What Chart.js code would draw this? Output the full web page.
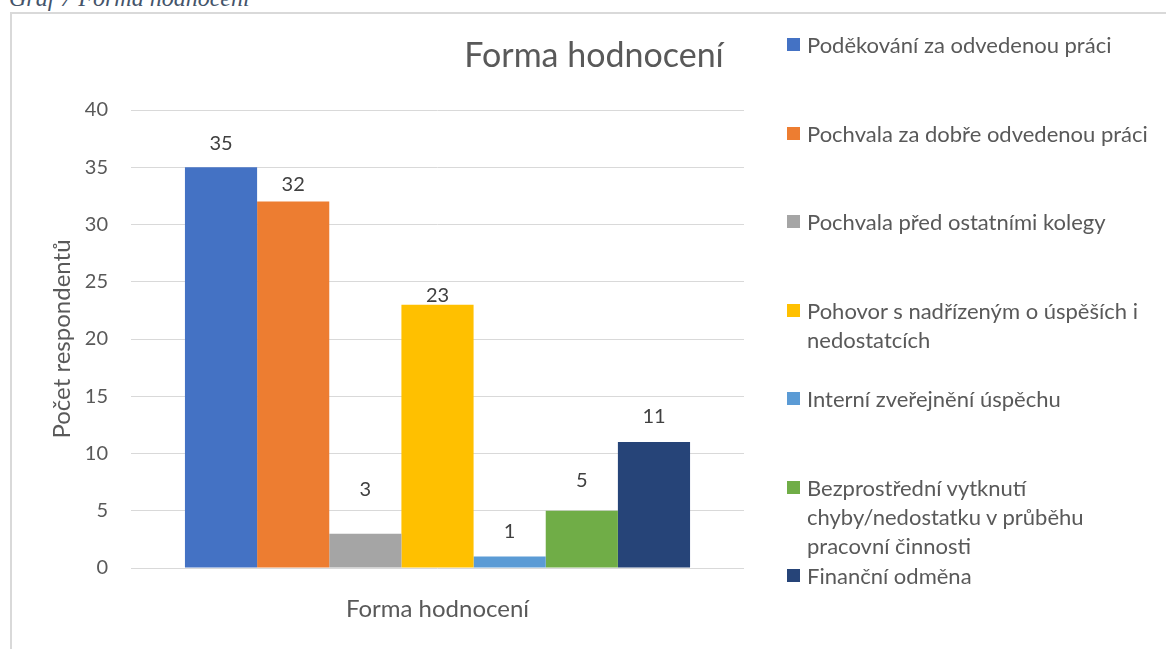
<!DOCTYPE html>
<html>
<head>
<meta charset="utf-8">
<script src="https://cdn.jsdelivr.net/npm/chart.js@4/dist/chart.umd.min.js"></script>
<style>
  body { margin: 0; background: #fff; width: 1166px; height: 649px; overflow: hidden; position: relative; font-family: Lato, sans-serif; }
  #caption { position: absolute; left: 9px; top: -14px; font: italic 24px/24px "Liberation Serif", serif; color: #44546a; white-space: nowrap; }
  #frame { position: absolute; left: 10px; top: 12px; width: 1200px; height: 700px; border-left: 2px solid #d9d9d9; border-top: 2px solid #d9d9d9; }
  #chart { position: absolute; left: 0; top: 0; }
  #legend { position: absolute; left: 0; top: 0; }
  .item { position: absolute; left: 787px; width: 375px; font-size: 22px; line-height: 29px; color: #595959; }
  .item span.box { position: absolute; left: 0; top: 8px; width: 13px; height: 13px; }
  .item span.txt { display: block; margin-left: 20px; width: 355px; }
</style>
</head>
<body>
<div id="caption">Graf 7 Forma hodnocení</div>
<div id="frame"></div>
<canvas id="chart" width="1166" height="649"></canvas>
<div id="legend"></div>
<script>
// Data
const categories = ['Forma hodnocení'];
const seriesNames = [
    'Poděkování za odvedenou práci',
    'Pochvala za dobře odvedenou práci',
    'Pochvala před ostatními kolegy',
    'Pohovor s nadřízeným o úspěších i nedostatcích',
    'Interní zveřejnění úspěchu',
    'Bezprostřední vytknutí chyby/nedostatku v průběhu pracovní činnosti',
    'Finanční odměna'
];
const seriesValues = [35, 32, 3, 23, 1, 5, 11];
const yTicks = [0, 5, 10, 15, 20, 25, 30, 35, 40];

// Styles
const colors = ['#4472c4', '#ed7d31', '#a5a5a5', '#ffc000', '#5b9bd5', '#70ad47', '#264478'];
const labelLift = [24, 17, 44, 9, 25, 30, 26];
const chartTitle = 'Forma hodnocení';
const yTitle = 'Počet respondentů';

const datasets = seriesNames.map((name, i) => ({
    label: name,
    data: [seriesValues[i]],
    backgroundColor: colors[i],
    borderWidth: 0
}));

// value labels above bars
const valueLabels = {
    id: 'valueLabels',
    afterDatasetsDraw(chart) {
        const ctx = chart.ctx;
        ctx.save();
        ctx.font = '20px Lato';
        ctx.fillStyle = '#404040';
        ctx.textAlign = 'center';
        ctx.textBaseline = 'middle';
        chart.data.datasets.forEach((ds, i) => {
            const bar = chart.getDatasetMeta(i).data[0];
            ctx.fillText(String(ds.data[0]), bar.x, bar.y - labelLift[i]);
        });
        ctx.restore();
    }
};

// chart title placed like in the original
const titlePlugin = {
    id: 'titlePlugin',
    afterDraw(chart) {
        const ctx = chart.ctx;
        ctx.save();
        ctx.font = '34px Lato';
        ctx.fillStyle = '#595959';
        ctx.textAlign = 'center';
        ctx.textBaseline = 'middle';
        ctx.fillText(chartTitle, 594, 56);
        ctx.restore();
    }
};

const chart = new Chart(document.getElementById('chart').getContext('2d'), {
    type: 'bar',
    data: { labels: categories, datasets: datasets },
    plugins: [valueLabels, titlePlugin],
    options: {
        responsive: false,
        animation: false,
        layout: { padding: { top: 110, right: 422, left: 48, bottom: 0 } },
        datasets: { bar: { categoryPercentage: 0.824, barPercentage: 1 } },
        plugins: { legend: { display: false }, tooltip: { enabled: false } },
        scales: {
            x: {
                grid: { display: false },
                border: { display: false },
                ticks: { color: '#595959', font: { family: 'Lato', size: 24 }, padding: 19 },
                afterFit(s) { s.height = 81; }
            },
            y: {
                min: 0, max: 40,
                afterBuildTicks(s) { s.ticks = yTicks.map(v => ({ value: v })); },
                grid: { color: '#d9d9d9', drawTicks: false },
                border: { display: false },
                ticks: { color: '#595959', font: { family: 'Lato', size: 20 }, padding: 23 },
                title: { display: true, text: yTitle, color: '#595959', font: { family: 'Lato', size: 24 }, padding: 0 },
                afterFit(s) { s.width = 131 - 48; }
            }
        }
    }
});

// HTML legend with wrapping labels
const legend = document.getElementById('legend');
chart.data.datasets.forEach((ds, i) => {
    const item = document.createElement('div');
    item.className = 'item';
    item.style.top = (30 + i * 88.5) + 'px';
    item.innerHTML = '<span class="box" style="background:' + ds.backgroundColor + '"></span><span class="txt"></span>';
    item.querySelector('.txt').textContent = ds.label;
    legend.appendChild(item);
});
</script>
</body>
</html>
